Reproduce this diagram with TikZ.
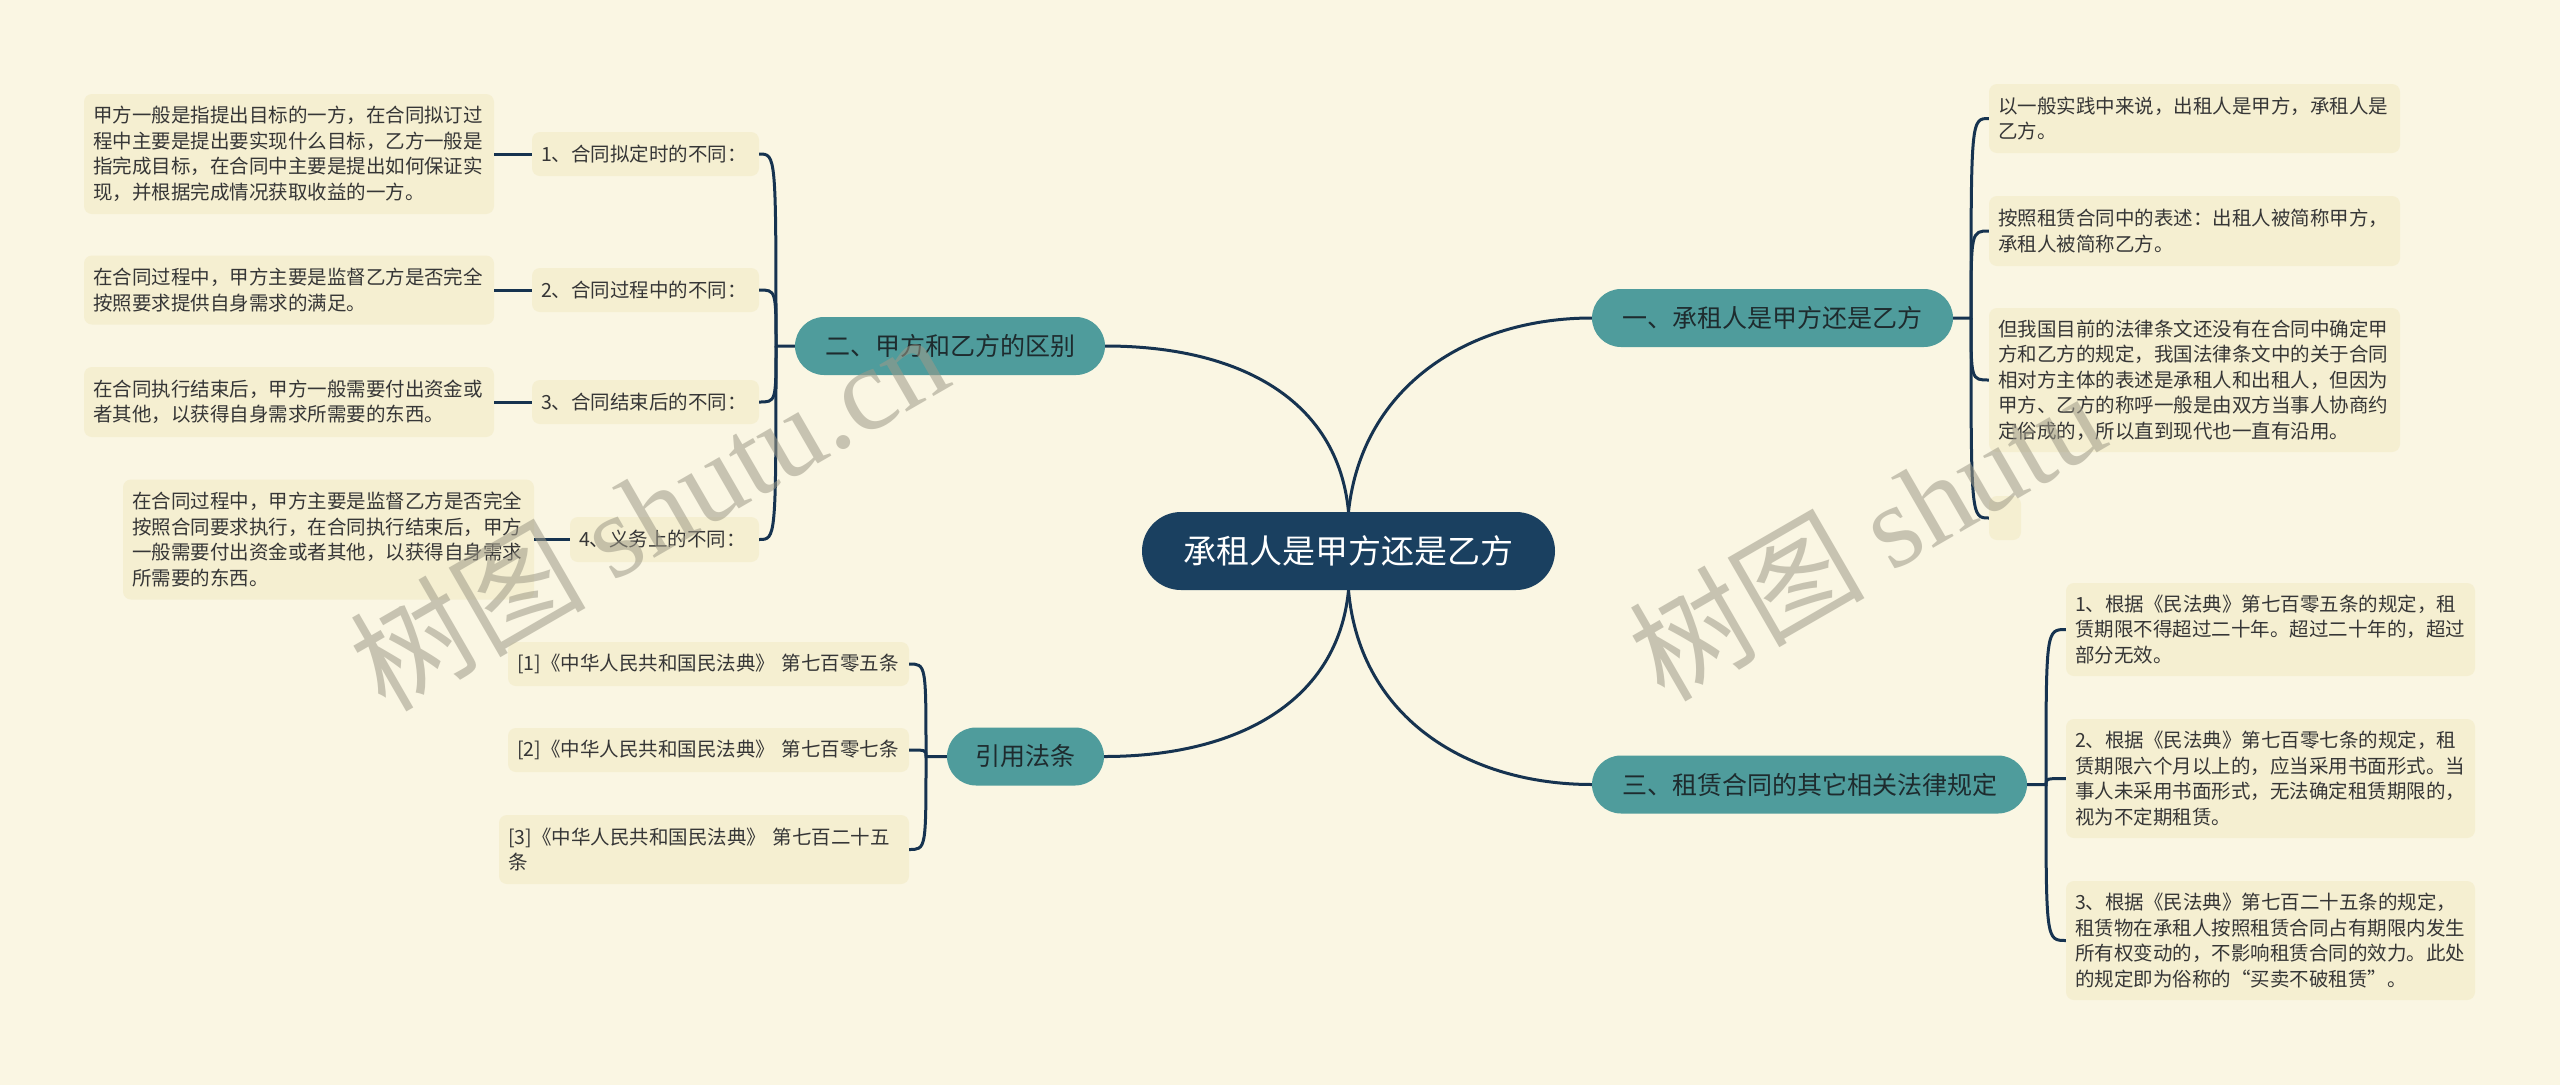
\documentclass[tikz,border=0pt]{standalone}
\usepackage{fontspec}
\setmainfont{Noto Sans CJK SC}
\newfontfamily\wmserif{Liberation Serif}
\definecolor{bgc}{HTML}{FAF6E3}
\definecolor{leafc}{HTML}{F5EFD1}
\definecolor{tealc}{HTML}{4F9C9C}
\definecolor{navyc}{HTML}{1A4060}
\definecolor{linec}{HTML}{163350}
\definecolor{txtc}{HTML}{363636}
\definecolor{darkc}{HTML}{1E2B2E}
\definecolor{wmc}{HTML}{9E9A88}
\tikzset{
  leaf/.style={fill=leafc, rounded corners=8pt, inner xsep=9pt, inner ysep=0pt,
    align=left, text=txtc, font=\fontsize{19.5}{25.5}\selectfont},
  mainnode/.style={fill=tealc, rounded corners=29pt, minimum height=58pt,
    inner xsep=0pt, text=darkc, font=\fontsize{25}{30}\selectfont},
  rootnode/.style={fill=navyc, rounded corners=39pt, minimum height=78pt,
    inner xsep=0pt, text=white, font=\fontsize{33}{38}\selectfont},
  conn/.style={draw=linec, line width=3pt},
  wm/.style={text=wmc, opacity=0.55, font=\fontsize{118}{118}\selectfont, inner sep=0pt},
}
\begin{document}
\begin{tikzpicture}[x=1pt,y=-1pt]
\useasboundingbox (0,0) rectangle (2560,1085);
\fill[bgc] (0,0) rectangle (2560,1085);

% root and main branches
\node[rootnode, minimum width=413pt] (C) at (1348.5,551) {承租人是甲方还是乙方};
\node[mainnode, minimum width=361pt] (N1) at (1772.5,318) {一、承租人是甲方还是乙方};
\node[mainnode, minimum width=310pt] (N2) at (950,346) {二、甲方和乙方的区别};
\node[mainnode, minimum width=435pt] (N3) at (1809.5,784.5) {三、租赁合同的其它相关法律规定};
\node[mainnode, minimum width=157pt] (N4) at (1025.5,756.5) {引用法条};

% left: 二
\node[leaf, text width=209pt, minimum height=44pt] (T1) at (645.5,154) {1、合同拟定时的不同：};
\node[leaf, text width=209pt, minimum height=44pt] (T2) at (645.5,290) {2、合同过程中的不同：};
\node[leaf, text width=209pt, minimum height=44pt] (T3) at (645.5,402) {3、合同结束后的不同：};
\node[leaf, text width=171pt, minimum height=45pt] (T4) at (664.5,539.5) {4、义务上的不同：};

\node[leaf, text width=392pt, minimum height=120pt] (L1) at (289,154) {甲方一般是指提出目标的一方，在合同拟订过\\程中主要是提出要实现什么目标，乙方一般是\\指完成目标，在合同中主要是提出如何保证实\\现，并根据完成情况获取收益的一方。};
\node[leaf, text width=392pt, minimum height=69pt] (L2) at (289,290) {在合同过程中，甲方主要是监督乙方是否完全\\按照要求提供自身需求的满足。};
\node[leaf, text width=392pt, minimum height=70pt] (L3) at (289,402) {在合同执行结束后，甲方一般需要付出资金或\\者其他，以获得自身需求所需要的东西。};
\node[leaf, text width=393pt, minimum height=120pt] (L4) at (328.5,539.5) {在合同过程中，甲方主要是监督乙方是否完全\\按照合同要求执行，在合同执行结束后，甲方\\一般需要付出资金或者其他，以获得自身需求\\所需要的东西。};

% refs
\node[leaf, text width=383pt, minimum height=44pt] (F1) at (708.5,664) {[1]《中华人民共和国民法典》~第七百零五条};
\node[leaf, text width=383pt, minimum height=44pt] (F2) at (708.5,750) {[2]《中华人民共和国民法典》~第七百零七条};
\node[leaf, text width=392pt, minimum height=69pt] (F3) at (704,849.5) {[3]《中华人民共和国民法典》~第七百二十五\\条};

% right: 一
\node[leaf, text width=393pt, minimum height=69pt] (R1) at (2194.5,118.5) {以一般实践中来说，出租人是甲方，承租人是\\乙方。};
\node[leaf, text width=393pt, minimum height=70pt] (R2) at (2194.5,231) {按照租赁合同中的表述：出租人被简称甲方，\\承租人被简称乙方。};
\node[leaf, text width=393pt, minimum height=144pt] (R3) at (2194.5,380) {但我国目前的法律条文还没有在合同中确定甲\\方和乙方的规定，我国法律条文中的关于合同\\相对方主体的表述是承租人和出租人，但因为\\甲方、乙方的称呼一般是由双方当事人协商约\\定俗成的，所以直到现代也一直有沿用。};
\node[leaf, inner xsep=0pt, minimum width=32pt, minimum height=44pt] (R4) at (2005,518) {};

% right: 三
\node[leaf, text width=391pt, minimum height=93pt] (S1) at (2270.5,629.5) {1、根据《民法典》第七百零五条的规定，租\\赁期限不得超过二十年。超过二十年的，超过\\部分无效。};
\node[leaf, text width=391pt, minimum height=119pt] (S2) at (2270.5,778.5) {2、根据《民法典》第七百零七条的规定，租\\赁期限六个月以上的，应当采用书面形式。当\\事人未采用书面形式，无法确定租赁期限的，\\视为不定期租赁。};
\node[leaf, text width=391pt, minimum height=119pt] (S3) at (2270.5,940.5) {3、根据《民法典》第七百二十五条的规定，\\租赁物在承租人按照租赁合同占有期限内发生\\所有权变动的，不影响租赁合同的效力。此处\\的规定即为俗称的“买卖不破租赁”。};

% main curves
\draw[conn] (C.north) .. controls (1338,400) and (1240,346) .. (N2.east);
\draw[conn] (C.north) .. controls (1362,385) and (1470,318) .. (N1.west);
\draw[conn] (C.south) .. controls (1338,700) and (1240,756.5) .. (N4.east);
\draw[conn] (C.south) .. controls (1360,720) and (1470,784.5) .. (N3.west);

% bracket 二
\coordinate (J2) at (776,346);
\draw[conn] (N2.west) -- (J2) .. controls (776,154) and (776,154) .. (T1.east);
\draw[conn] (J2) .. controls (776,290) and (776,290) .. (T2.east);
\draw[conn] (J2) .. controls (776,402) and (776,402) .. (T3.east);
\draw[conn] (J2) .. controls (776,539.5) and (776,539.5) .. (T4.east);
\draw[conn] (L1.east) -- (T1.west);
\draw[conn] (L2.east) -- (T2.west);
\draw[conn] (L3.east) -- (T3.west);
\draw[conn] (L4.east) -- (T4.west);

% bracket refs
\coordinate (J4) at (926,756.5);
\draw[conn] (N4.west) -- (J4) .. controls (926,664) and (926,664) .. (F1.east);
\draw[conn] (J4) .. controls (926,750) and (926,750) .. (F2.east);
\draw[conn] (J4) .. controls (926,849.5) and (926,849.5) .. (F3.east);

% bracket 一
\coordinate (J1) at (1971,318);
\draw[conn] (N1.east) -- (J1) .. controls (1971,118.5) and (1971,118.5) .. (R1.west);
\draw[conn] (J1) .. controls (1971,231) and (1971,231) .. (R2.west);
\draw[conn] (J1) .. controls (1971,380) and (1971,380) .. (R3.west);
\draw[conn] (J1) .. controls (1971,518) and (1971,518) .. (R4.west);

% bracket 三
\coordinate (J3) at (2046,784.5);
\draw[conn] (N3.east) -- (J3) .. controls (2046,629.5) and (2046,629.5) .. (S1.west);
\draw[conn] (J3) .. controls (2046,778.5) and (2046,778.5) .. (S2.west);
\draw[conn] (J3) .. controls (2046,940.5) and (2046,940.5) .. (S3.west);

% watermarks
\node[wm, rotate=30] (W1) at (648,510) {树图 {\wmserif shutu.cn}};
\node[wm, rotate=30] (W2) at (1866,535) {树图 {\wmserif shutu}};
\end{tikzpicture}
\end{document}
